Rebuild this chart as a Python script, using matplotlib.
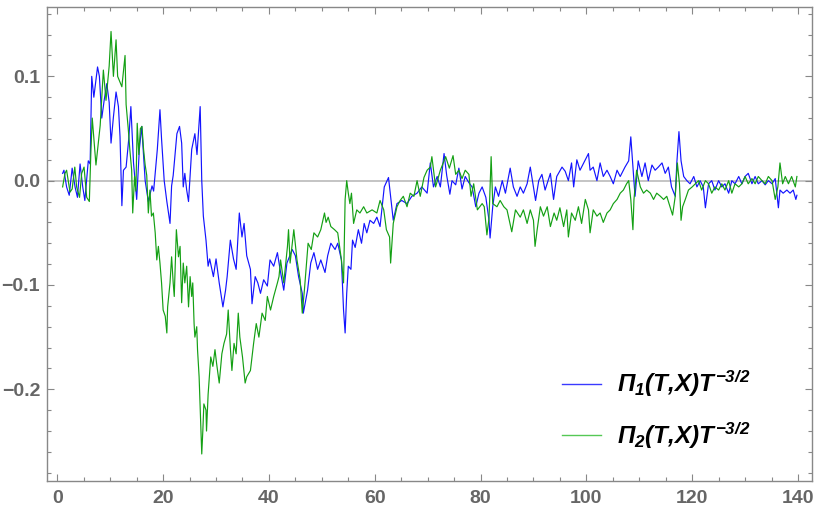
import matplotlib
matplotlib.use("Agg")
import matplotlib.pyplot as plt
from matplotlib.ticker import MultipleLocator
from matplotlib.lines import Line2D

# Datos
t_pi1 = [1.0, 1.25, 1.75, 2.25, 2.8, 3.35, 3.8, 4.3, 4.8, 5.2, 5.85, 6.2, 6.5, 6.9, 7.6, 7.95,
         8.4, 8.85, 9.35, 9.8, 10.15, 10.6, 11.1, 11.55, 11.85, 12.2, 12.5, 13.0, 13.5, 13.9,
         14.4, 15.0, 15.5, 15.95, 16.6, 17.2, 17.9, 18.2, 18.9, 19.4, 19.7, 20.2, 20.7, 21.3,
         21.6, 21.9, 22.6, 23.1, 23.5, 23.8, 24.1, 24.45, 24.8, 25.4, 26.0, 26.4, 27.0, 27.3,
         27.6, 28.1, 28.5, 28.8, 29.5, 30.0, 30.6, 31.3, 31.8, 32.1, 32.7, 33.3, 33.8, 34.4,
         34.9, 35.3, 35.8, 36.5, 36.8, 37.4, 37.9, 38.4, 39.0, 39.7, 40.2, 40.9, 41.6, 42.1,
         42.8, 43.4, 44.4, 45.0, 45.6, 46.3, 46.5, 47.3, 47.9, 48.5, 49.2, 49.8, 50.6, 51.1,
         51.7, 52.5, 53.0, 53.7, 54.1, 54.4, 54.7, 55.0, 55.5, 55.8, 56.3, 56.9, 57.5, 58.0,
         58.5, 59.1, 59.8, 60.4, 61.0, 61.8, 62.6, 63.0, 63.5, 64.2, 65.1, 66.1, 67.0, 68.0,
         68.9, 69.9, 70.5, 71.1, 71.8, 72.4, 73.1, 73.6, 74.2, 74.6, 75.3, 75.9, 76.5, 77.1,
         77.8, 78.4, 79.1, 79.7, 80.3, 81.0, 81.6, 81.8, 82.3, 82.8, 83.4, 84.1, 84.7, 85.6,
         86.2, 86.9, 87.5, 88.1, 88.8, 89.4, 90.0, 90.4, 91.0, 91.6, 92.2, 93.2, 93.8, 94.4,
         95.4, 96.0, 96.6, 97.2, 97.6, 98.2, 98.8, 99.5, 100.4, 100.7, 101.3, 102.0, 102.6,
         103.2, 103.9, 104.5, 105.1, 105.8, 106.4, 107.3, 108.0, 108.4, 108.8, 109.2, 109.8,
         110.5, 111.1, 111.7, 112.4, 113.0, 113.6, 114.3, 114.9, 115.5, 116.1, 116.8, 117.1,
         117.5, 117.9, 118.4, 119.0, 119.6, 120.3, 120.9, 121.5, 122.1, 122.5, 123.1, 123.7,
         124.3, 125.0, 125.6, 126.2, 126.9, 127.5, 128.1, 128.8, 129.4, 130.0, 130.6, 131.3,
         131.9, 132.5, 133.2, 133.8, 134.4, 135.1, 135.7, 136.3, 136.6, 137.2, 137.9, 138.5,
         139.1, 139.6, 139.8]
pi1 = [0.007, 0.010, -0.006, -0.014, 0.012, -0.006, -0.016, 0.016, -0.006, -0.019, 0.019, 0.016,
       0.100, 0.080, 0.109, 0.100, 0.060, 0.077, 0.093, 0.075, 0.036, 0.061, 0.085, 0.071,
       0.042, -0.024, 0.010, 0.013, 0.040, 0.071, 0.017, -0.018, 0.030, 0.052, 0.000, -0.020,
       -0.005, -0.010, 0.030, 0.068, 0.040, 0.000, -0.020, -0.041, -0.005, 0.005, 0.045, 0.052,
       0.036, -0.006, 0.007, -0.009, -0.020, 0.030, 0.045, 0.025, 0.071, 0.000, -0.034, -0.057,
       -0.082, -0.075, -0.092, -0.075, -0.098, -0.121, -0.105, -0.092, -0.057, -0.075, -0.085,
       -0.031, -0.054, -0.041, -0.072, -0.085, -0.118, -0.092, -0.098, -0.108, -0.095, -0.101,
       -0.076, -0.082, -0.069, -0.085, -0.105, -0.079, -0.066, -0.072, -0.092, -0.108, -0.127,
       -0.105, -0.079, -0.069, -0.085, -0.076, -0.088, -0.072, -0.060, -0.066, -0.060, -0.076,
       -0.124, -0.146, -0.108, -0.082, -0.085, -0.057, -0.064, -0.047, -0.060, -0.041, -0.050,
       -0.038, -0.041, -0.035, -0.044, -0.006, 0.003, -0.015, -0.038, -0.022, -0.019, -0.022,
       -0.015, -0.012, -0.006, -0.012, 0.017, -0.006, 0.004, -0.006, 0.026, 0.005, -0.013,
       0.000, -0.004, 0.012, -0.008, 0.004, -0.002, -0.006, -0.025, -0.012, -0.006, -0.016,
       -0.038, -0.055, -0.025, -0.006, -0.015, 0.000, -0.012, 0.012, -0.006, -0.015, -0.006,
       -0.012, -0.003, 0.013, -0.006, -0.019, 0.000, 0.006, -0.009, 0.007, -0.018, 0.004,
       0.013, 0.009, 0.000, 0.017, -0.006, 0.020, 0.010, 0.017, 0.026, 0.010, 0.013, 0.000,
       0.017, 0.004, 0.010, 0.004, -0.003, 0.010, 0.004, 0.013, 0.019, 0.042, 0.013, -0.015,
       0.019, 0.004, 0.017, 0.000, 0.015, 0.010, 0.013, 0.017, 0.007, 0.013, -0.006, -0.015,
       0.017, 0.047, 0.019, 0.004, 0.000, -0.003, 0.004, -0.006, 0.000, -0.006, -0.026, -0.003,
       0.000, -0.009, 0.000, -0.006, -0.003, -0.012, 0.000, -0.003, 0.004, -0.003, 0.004, 0.007,
       -0.003, 0.004, -0.003, 0.000, -0.004, 0.000, -0.003, 0.002, -0.026, -0.009, -0.012,
       -0.009, -0.012, -0.009, -0.018, -0.014]

t_pi2 = [1.0, 1.45, 1.75, 2.4, 2.8, 3.3, 3.65, 4.2, 4.6, 5.05, 5.55, 6.05, 6.35, 6.6, 7.3, 8.1,
         8.7, 9.2, 9.8, 10.15, 10.6, 11.1, 11.4, 12.2, 12.8, 13.0, 13.4, 13.7, 14.05, 14.25,
         14.6, 14.85, 15.1, 15.4, 15.7, 16.0, 16.3, 16.6, 16.9, 17.2, 17.5, 17.8, 18.15, 18.5,
         18.8, 19.1, 19.4, 19.7, 20.0, 20.4, 20.7, 20.85, 21.3, 21.6, 21.9, 22.1, 22.5, 22.9,
         23.2, 23.5, 23.8, 24.1, 24.45, 24.8, 25.1, 25.4, 25.6, 25.85, 26.0, 26.35, 26.5, 26.8,
         27.3, 27.5, 27.7, 28.1, 28.2, 28.5, 29.0, 29.4, 29.8, 30.1, 30.6, 31.1, 31.5, 32.0,
         32.3, 32.7, 33.0, 33.4, 33.8, 34.2, 34.5, 35.0, 35.5, 35.8, 36.5, 37.1, 37.6, 38.1,
         38.7, 39.3, 39.7, 40.3, 40.9, 41.6, 41.9, 42.2, 42.8, 43.5, 43.7, 44.0, 44.7, 45.3,
         45.9, 46.3, 46.7, 47.4, 48.0, 48.5, 49.2, 49.8, 50.5, 50.8, 51.2, 51.7, 52.4, 53.0,
         53.7, 54.1, 54.4, 54.7, 55.0, 55.3, 55.6, 56.0, 56.6, 57.2, 57.9, 58.5, 59.5, 60.4,
         61.0, 61.7, 62.2, 62.8, 63.0, 63.5, 64.2, 64.8, 65.4, 66.1, 66.7, 67.4, 68.0, 68.6,
         69.3, 69.9, 70.5, 70.8, 71.5, 72.4, 73.4, 74.1, 74.8, 75.3, 75.9, 76.5, 77.1, 77.8,
         78.2, 78.7, 79.4, 80.3, 80.7, 81.2, 81.6, 82.0, 82.3, 83.1, 83.7, 84.4, 85.0, 85.9,
         86.6, 87.5, 88.1, 88.8, 89.4, 90.0, 90.3, 90.7, 91.3, 91.9, 92.6, 93.2, 93.9, 94.4,
         95.0, 95.7, 96.3, 96.6, 97.2, 97.9, 98.5, 99.1, 99.8, 100.4, 100.7, 101.3, 102.0,
         102.6, 103.2, 103.9, 104.5, 105.1, 105.8, 106.4, 107.0, 107.6, 108.0, 108.4, 108.8,
         109.0, 109.5, 110.2, 110.8, 111.4, 112.1, 112.7, 113.3, 114.0, 114.6, 115.2, 115.8,
         116.3, 116.8, 117.2, 117.6, 117.9, 118.2, 118.7, 119.3, 120.0, 120.6, 121.2, 121.8,
         122.5, 123.1, 123.7, 124.3, 125.0, 125.6, 126.2, 126.9, 127.5, 128.1, 128.8, 129.4,
         130.0, 130.6, 131.3, 131.9, 132.5, 133.2, 133.8, 134.4, 135.1, 135.7, 136.2, 136.6,
         137.1, 137.6, 138.2, 138.8, 139.5, 139.8]
pi2 = [-0.006, 0.007, 0.010, -0.011, -0.008, 0.013, -0.006, -0.016, 0.007, 0.013, -0.016, -0.020,
       0.029, 0.060, 0.015, 0.053, 0.106, 0.077, 0.110, 0.143, 0.100, 0.135, 0.100, 0.090,
       0.120, 0.073, 0.050, 0.030, 0.010, -0.031, 0.004, -0.010, 0.055, 0.025, 0.050, 0.052,
       0.030, 0.015, 0.005, -0.031, -0.009, -0.034, -0.031, -0.050, -0.076, -0.063, -0.079,
       -0.098, -0.124, -0.130, -0.146, -0.121, -0.098, -0.073, -0.098, -0.111, -0.047, -0.073,
       -0.063, -0.117, -0.079, -0.098, -0.082, -0.121, -0.092, -0.111, -0.098, -0.137, -0.150,
       -0.140, -0.162, -0.188, -0.262, -0.240, -0.214, -0.220, -0.240, -0.205, -0.169, -0.178,
       -0.162, -0.175, -0.194, -0.166, -0.156, -0.147, -0.124, -0.160, -0.182, -0.156, -0.166,
       -0.127, -0.150, -0.169, -0.194, -0.188, -0.182, -0.156, -0.137, -0.150, -0.127, -0.134,
       -0.111, -0.124, -0.111, -0.098, -0.092, -0.076, -0.098, -0.063, -0.047, -0.079, -0.047,
       -0.076, -0.095, -0.127, -0.105, -0.060, -0.066, -0.050, -0.054, -0.047, -0.031, -0.040,
       -0.035, -0.044, -0.047, -0.050, -0.076, -0.098, -0.018, 0.000, -0.012, -0.022, -0.012,
       -0.041, -0.028, -0.031, -0.025, -0.031, -0.028, -0.031, -0.019, -0.028, -0.047, -0.054,
       -0.079, -0.041, -0.025, -0.019, -0.015, -0.025, -0.012, -0.015, 0.000, -0.015, 0.003,
       0.010, 0.013, 0.023, -0.006, 0.010, 0.023, 0.012, 0.024, 0.006, 0.010, 0.002, 0.010,
       0.006, -0.015, -0.003, -0.028, -0.022, -0.025, -0.052, -0.036, 0.023, -0.022, -0.025,
       -0.019, -0.025, -0.028, -0.049, -0.028, -0.035, -0.028, -0.041, -0.028, -0.038, -0.063,
       -0.047, -0.025, -0.034, -0.025, -0.044, -0.031, -0.038, -0.026, -0.044, -0.028, -0.054,
       -0.031, -0.038, -0.025, -0.041, -0.018, -0.028, -0.050, -0.028, -0.034, -0.031, -0.040,
       -0.031, -0.028, -0.022, -0.018, -0.012, -0.009, -0.003, 0.000, -0.018, -0.047, -0.018,
       0.010, -0.006, -0.012, -0.009, -0.012, -0.018, -0.012, -0.015, -0.018, -0.015, -0.025,
       -0.033, -0.015, 0.017, -0.003, -0.038, -0.025, -0.018, -0.009, -0.006, -0.003, 0.000,
       -0.009, 0.000, -0.003, -0.012, -0.006, -0.009, -0.003, -0.009, 0.000, -0.012, -0.003,
       -0.006, -0.003, 0.004, -0.003, 0.002, -0.003, 0.004, 0.000, -0.003, 0.004, 0.000,
       -0.018, -0.006, 0.017, -0.003, 0.004, -0.003, 0.004, -0.006, 0.004]

labels = [r"$\Pi_1(T{,}X)T^{-3/2}$", r"$\Pi_2(T{,}X)T^{-3/2}$"]

AZUL = "#1414ff"
VERDE = "#14a014"
GRIS = "#888888"

plt.rcParams["mathtext.fontset"] = "custom"
plt.rcParams["mathtext.rm"] = "Liberation Sans:italic:bold"
plt.rcParams["mathtext.it"] = "Liberation Sans:italic:bold"
plt.rcParams["mathtext.bf"] = "Liberation Sans:italic:bold"

fig = plt.figure(figsize=(8.22, 5.13), dpi=100)
ax = fig.add_axes([0.0572, 0.063, 0.9303, 0.9224])

ax.axhline(0, color="#b4b4b4", lw=1.1, zorder=1)
ax.plot(t_pi1, pi1, color=AZUL, lw=0.85, zorder=2)
ax.plot(t_pi2, pi2, color=VERDE, lw=0.85, zorder=3)

ax.set_xlim(-1.95, 142.6)
ax.set_ylim(-0.2876, 0.166)

ax.xaxis.set_major_locator(MultipleLocator(20))
ax.xaxis.set_minor_locator(MultipleLocator(5))
ax.yaxis.set_major_locator(MultipleLocator(0.1))
ax.yaxis.set_minor_locator(MultipleLocator(0.02))

ax.tick_params(which="both", direction="in", top=True, right=True, color=GRIS, width=0.8)
ax.tick_params(which="major", length=5)
ax.tick_params(which="minor", length=3)
ax.tick_params(axis="x", pad=7)
ax.tick_params(axis="y", pad=5)
ax.yaxis.set_major_formatter(plt.FuncFormatter(lambda v, p: f"{v:.1f}".replace("-", "\u2212")))
for lbl in ax.get_xticklabels() + ax.get_yticklabels():
    lbl.set_fontfamily("Liberation Sans")
    lbl.set_fontsize(14)
    lbl.set_fontweight("bold")
    lbl.set_color("#666666")

for s in ax.spines.values():
    s.set_color(GRIS)
    s.set_linewidth(1.0)

handles = [Line2D([], [], color="#3a3aff", lw=1.0), Line2D([], [], color="#55c855", lw=1.0)]
ax.legend(handles, labels, loc="center left", bbox_to_anchor=(0.673, 0.15), frameon=False,
          fontsize=17.5, handlelength=1.6, handletextpad=0.66, labelspacing=0.85,
          borderpad=0, borderaxespad=0)

plt.savefig("out.png", dpi=100)
